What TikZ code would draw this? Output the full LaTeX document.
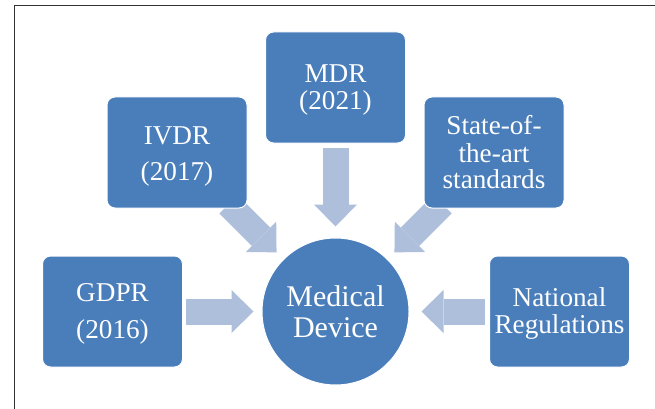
\documentclass[tikz,border=0pt]{standalone}
\usepackage{fontspec}
\setmainfont{Liberation Serif}
\usetikzlibrary{arrows.meta,backgrounds}
\definecolor{boxblue}{HTML}{4A7EBB}
\definecolor{arrowblue}{HTML}{AEBFDB}
\definecolor{framegray}{HTML}{333333}
\tikzset{
  regbox/.style={draw=white, line width=1pt, fill=boxblue, rounded corners=8pt,
    minimum width=140pt, minimum height=111pt, inner sep=0pt},
  hub/.style={circle, fill=boxblue, draw=white, line width=1pt,
    minimum size=147pt, inner sep=0pt},
  txt/.style={text=white, inner sep=0pt, anchor=base,
    font=\fontsize{27.2}{27.2}\selectfont},
  bigtxt/.style={txt, font=\fontsize{30}{30}\selectfont},
  blockarrow/.style={arrowblue, line width=26pt,
    -{Triangle[width=43pt,length=22pt,line width=0pt]}},
}
\begin{document}
\begin{tikzpicture}[x=1pt,y=-1pt]
\useasboundingbox (0,0) rectangle (655,409);
\coordinate (fbl) at (14.5,409);
\coordinate (ftl) at (14.5,5.5);
\coordinate (ftr) at (655,5.5);
\draw[framegray, line width=1.5pt] (fbl) -- (ftl) -- (ftr);

\node[regbox] (mdr) at (335.5,87.5) {};
\node[regbox] (ivdr) at (177,152.5) {};
\node[regbox] (state) at (494,152.5) {};
\node[regbox] (gdpr) at (112.5,311.5) {};
\node[regbox] (nat) at (559.5,311.5) {};
\node[hub] (med) at (335.5,311.5) {};

\begin{scope}[on background layer]
\draw[blockarrow, shorten <=4pt, shorten >=11pt] (mdr.south) -- (med.north);
\draw[blockarrow, shorten <=3pt, shorten >=8pt] (gdpr.east) -- (med.west);
\draw[blockarrow, shorten <=4pt, shorten >=12pt] (nat.west) -- (med.east);
\draw[blockarrow, shorten <=-6pt, shorten >=9.5pt] (ivdr) -- (med);
\draw[blockarrow, shorten <=-6pt, shorten >=9.5pt] (state) -- (med);
\end{scope}

\node[txt] (mdr1) at (335.5,83) {MDR};
\node[txt] (mdr2) at (335.5,110) {(2021)};
\node[txt] (ivdr1) at (177,144.3) {IVDR};
\node[txt] (ivdr2) at (177,180) {(2017)};
\node[txt] (state1) at (494,135) {State-of-};
\node[txt] (state2) at (494,162) {the-art};
\node[txt] (state3) at (494,188) {standards};
\node[txt] (gdpr1) at (112.5,301.7) {GDPR};
\node[txt] (gdpr2) at (112.5,338) {(2016)};
\node[txt] (nat1) at (559.5,306.7) {National};
\node[txt] (nat2) at (559.5,333.3) {Regulations};
\node[bigtxt] (med1) at (335.5,306) {Medical};
\node[bigtxt] (med2) at (335.5,337) {Device};
\end{tikzpicture}
\end{document}
